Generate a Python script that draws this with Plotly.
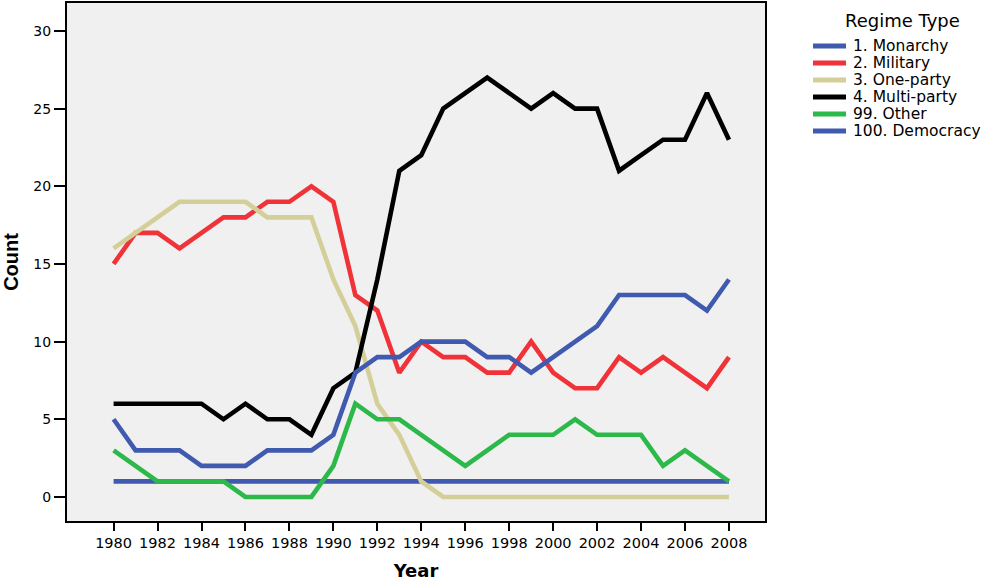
import plotly.graph_objects as go

years = list(range(1980, 2009))
monarchy = [1] * 29
military = [15, 17, 17, 16, 17, 18, 18, 19, 19, 20, 19, 13, 12, 8, 10, 9, 9, 8, 8, 10, 8, 7, 7, 9, 8, 9, 8, 7, 9]
one_party = [16, 17, 18, 19, 19, 19, 19, 18, 18, 18, 14, 11, 6, 4, 1, 0, 0, 0, 0, 0, 0, 0, 0, 0, 0, 0, 0, 0, 0]
multi_party = [6, 6, 6, 6, 6, 5, 6, 5, 5, 4, 7, 8, 14, 21, 22, 25, 26, 27, 26, 25, 26, 25, 25, 21, 22, 23, 23, 26, 23]
other = [3, 2, 1, 1, 1, 1, 0, 0, 0, 0, 2, 6, 5, 5, 4, 3, 2, 3, 4, 4, 4, 5, 4, 4, 4, 2, 3, 2, 1]
democracy = [5, 3, 3, 3, 2, 2, 2, 3, 3, 3, 4, 8, 9, 9, 10, 10, 10, 9, 9, 8, 9, 10, 11, 13, 13, 13, 13, 12, 14]

series_names = ["1. Monarchy", "2. Military", "3. One-party", "4. Multi-party", "99. Other", "100. Democracy"]
series_values = [monarchy, military, one_party, multi_party, other, democracy]
series_colors = ["#3F5AAE", "#EF3339", "#D4CE98", "#000000", "#2DB84A", "#3F5AAE"]
legend_title = "Regime Type"

tick_years = list(range(1980, 2009, 2))
y_ticks = [0, 5, 10, 15, 20, 25, 30]

W, H = 989, 581
L, R, T, B = 67, 224, 3, 60
pw, ph = W - L - R, H - T - B


def px_x(px):
    return (px - L) / pw


def px_y(py):
    return (H - B - py) / ph


fig = go.Figure()
for name, vals, col in zip(series_names, series_values, series_colors):
    fig.add_trace(go.Scatter(x=years, y=vals, mode="lines", name=name,
                             line=dict(color=col, width=4.6), showlegend=False))

font_family = "DejaVu Sans, Liberation Sans, Arial, sans-serif"

# Custom legend (matches the compact SPSS legend spacing)
shapes = []
annotations = [dict(text=legend_title, x=px_x(902), y=px_y(20), xref="paper", yref="paper",
                    xanchor="center", yanchor="middle", showarrow=False,
                    font=dict(size=18, family=font_family, color="black"))]
for i, (name, col) in enumerate(zip(series_names, series_colors)):
    yy = px_y(46 + 17 * i)
    shapes.append(dict(type="line", xref="paper", yref="paper",
                       x0=px_x(813), x1=px_x(846), y0=yy, y1=yy,
                       line=dict(color=col, width=5)))
    annotations.append(dict(text=name, x=px_x(851), y=yy, xref="paper", yref="paper",
                            xanchor="left", yanchor="middle", showarrow=False,
                            font=dict(size=15.5, family=font_family, color="black")))

fig.update_layout(
    width=W, height=H,
    margin=dict(l=L, r=R, t=T, b=B, autoexpand=False),
    paper_bgcolor="white",
    plot_bgcolor="#F0F0F0",
    font=dict(family=font_family, size=13, color="black"),
    showlegend=False,
    shapes=shapes,
    annotations=annotations,
    xaxis=dict(
        range=[1977.88, 2009.64],
        tickvals=tick_years, ticktext=[str(y) for y in tick_years],
        ticks="outside", ticklen=8, tickwidth=2, tickcolor="black",
        showgrid=False, zeroline=False, automargin=False,
        showline=True, linecolor="black", linewidth=2, mirror=True,
        tickfont=dict(size=14.5),
        title=dict(text="<b>Year</b>", font=dict(size=18), standoff=20),
    ),
    yaxis=dict(
        range=[-1.55, 31.8],
        tickvals=y_ticks,
        ticks="outside", ticklen=11, tickwidth=1.5, tickcolor="black",
        showgrid=False, zeroline=False, automargin=False,
        showline=True, linecolor="black", linewidth=2, mirror=True,
        tickfont=dict(size=14),
        title=dict(text="<b>Count</b>",
                   font=dict(size=20, family="Liberation Sans Narrow, Liberation Sans, Arial"),
                   standoff=11),
    ),
)

fig.write_html("out.html", config={"displayModeBar": False},
               post_script="document.body.style.margin='0';")
